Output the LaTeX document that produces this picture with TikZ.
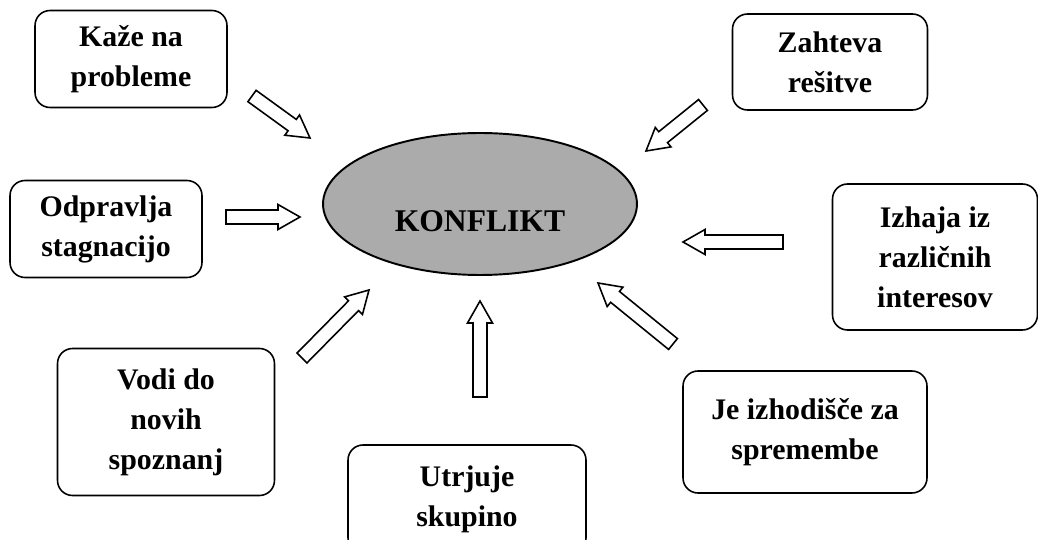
\documentclass[tikz,border=0pt]{standalone}
\usepackage{fontspec}
\setmainfont{Liberation Serif}
\usetikzlibrary{shapes.geometric,calc}
\newcommand{\blockarr}[2]{%
	\coordinate (m) at ($(#2)!0.44cm!(#1)$);
	\draw[arr] ($(#1)!0.14cm!90:(#2)$) -- ($(m)!0.14cm!90:(#2)$) -- ($(m)!0.25cm!90:(#2)$) -- (#2)
		-- ($(m)!0.25cm!-90:(#2)$) -- ($(m)!0.14cm!-90:(#2)$) -- ($(#1)!0.14cm!-90:(#2)$) -- cycle;}
\begin{document}
\begin{tikzpicture}
			[x=0.02cm,y=-0.02cm,
			box/.style={draw,rounded corners=0.3cm,line width=0.9pt,align=center,font=\fontsize{17}{22.8}\selectfont\bfseries},
			arr/.style={draw,fill=white,line width=0.9pt,line join=miter}]
			\useasboundingbox (0,0) rectangle (1038,540);
			\node[ellipse,draw,fill=black!33,line width=1.1pt,minimum width=6.28cm,minimum height=2.84cm,inner sep=0pt,
				text height=1.12cm,text depth=0pt,font=\fontsize{18}{20}\selectfont\bfseries,name=konf] at (480,204) {KONFLIKT};
			\node[box,minimum width=3.84cm,minimum height=1.94cm,name=kaze] at (131,59) {Kaže na\\probleme};
			\node[box,minimum width=3.84cm,minimum height=1.94cm,name=odpr] at (106,229) {Odpravlja\\stagnacijo};
			\node[box,minimum width=4.34cm,minimum height=2.94cm,name=vodi] at (166,422) {Vodi do\\novih\\spoznanj};
			\node[box,minimum width=4.76cm,minimum height=2.16cm,name=utrj] at (467,499) {Utrjuje\\skupino};
			\node[box,minimum width=4.88cm,minimum height=2.44cm,name=jeiz] at (805,432) {Je izhodišče za\\spremembe};
			\node[box,minimum width=4.10cm,minimum height=2.92cm,name=izha] at (935,257) {Izhaja iz\\različnih\\interesov};
			\node[box,minimum width=3.90cm,minimum height=1.92cm,name=zaht] at (830,62) {Zahteva\\rešitve};
			\coordinate (t1) at (252,96); \coordinate (h1) at (310,138);
			\coordinate (t2) at (226,217); \coordinate (h2) at (300,217);
			\coordinate (t3) at (302,358); \coordinate (h3) at (369,290);
			\coordinate (t4) at (480,397); \coordinate (h4) at (480,301);
			\coordinate (t5) at (673,344); \coordinate (h5) at (598,283);
			\coordinate (t6) at (783,242); \coordinate (h6) at (683,242);
			\coordinate (t7) at (703,105); \coordinate (h7) at (646,151);
			\blockarr{t1}{h1}
			\blockarr{t2}{h2}
			\blockarr{t3}{h3}
			\blockarr{t4}{h4}
			\blockarr{t5}{h5}
			\blockarr{t6}{h6}
			\blockarr{t7}{h7}
		\end{tikzpicture}
\end{document}
